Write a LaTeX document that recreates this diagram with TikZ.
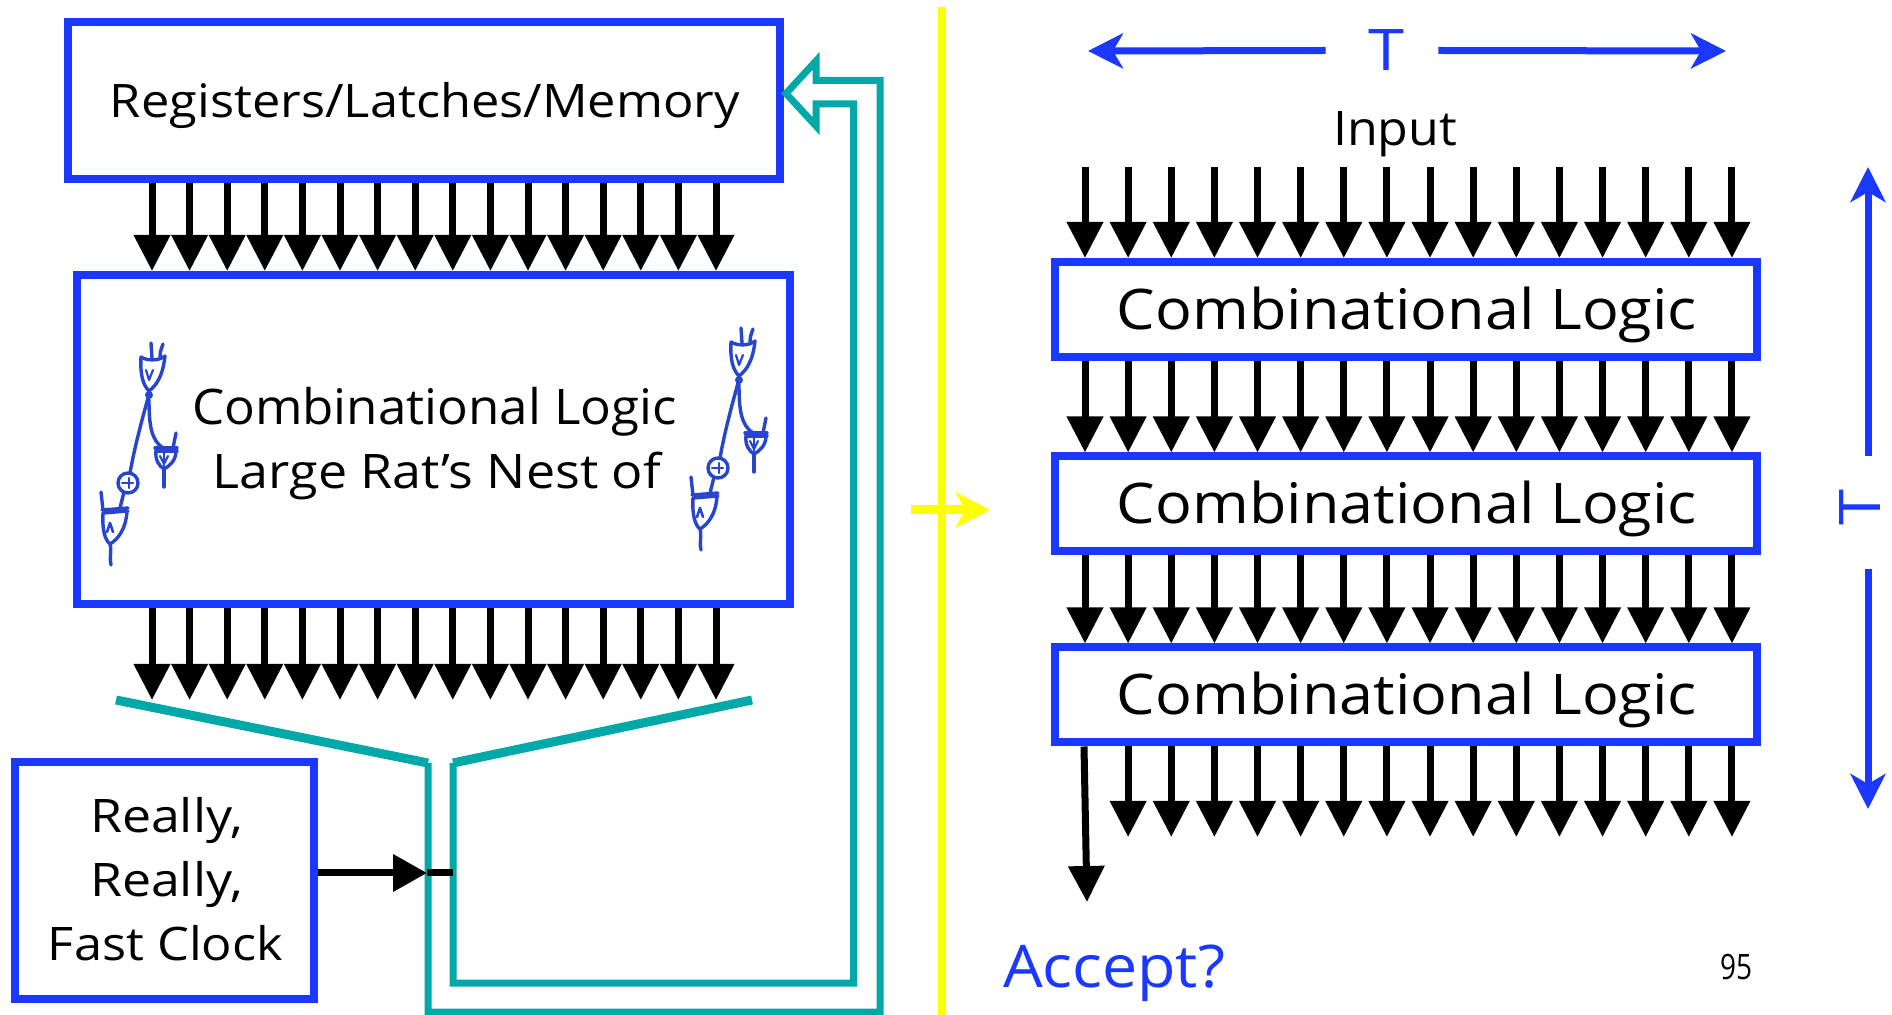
\documentclass[tikz,border=0pt]{standalone}
\usepackage{fontspec}
\setmainfont{Open Sans}
\usepackage{graphicx}
\usetikzlibrary{arrows.meta}

\definecolor{boxblue}{RGB}{26,56,255}
\definecolor{loopteal}{RGB}{0,168,168}
\definecolor{pen}{RGB}{40,70,205}
\definecolor{sunny}{RGB}{255,255,0}

% squeeze a text horizontally to a given width, keeping its height
\newcommand\fitw[2]{\resizebox{#1}{\height}{#2}}

\tikzset{
  gatesketch/.pic={
    \begin{scope}[draw=pen, line width=1.7pt, line cap=round, line join=round]
      % top OR gate with its two inputs
      \draw (46,27) .. controls (52,31) and (64,31) .. (70,26);
      \draw (46,27) .. controls (45,45) and (48,55) .. (54,61)
                    .. controls (62,55) and (68,45) .. (70,26);
      \draw (57,28) -- (56,13);
      \draw (65,27) .. controls (65,20) and (67,18) .. (68,14);
      \draw[line width=1.1pt] (51,40) -- (54,50) -- (58,40);
      \fill[pen] (54,65) circle (4);
      % wire down to the XOR circle
      \draw (53,68) .. controls (47,90) and (40,115) .. (35,143);
      \draw (33,153) circle (10);
      \draw[line width=1.3pt] (27,153) -- (38,153);
      \draw[line width=1.3pt] (34,148) -- (34,158);
      \draw (29,162) -- (25,178);
      % bottom AND gate
      \draw (7,180) -- (33,178);
      \draw (8,183) -- (33,181);
      \draw (8,183) .. controls (7,200) and (10,210) .. (15,214)
                    .. controls (22,210) and (31,200) .. (32,181);
      \draw[line width=1.3pt] (12,202) -- (15,193) -- (18,202);
      \draw (8,180) -- (6,162);
      \draw (15,214) .. controls (17,222) and (14,228) .. (16,235);
      % wire to the small gate on the right
      \draw (54,69) .. controls (54,95) and (56,110) .. (68,118);
      \draw (60,118) -- (82,118);
      \draw (61,121) -- (82,121);
      \draw (61,121) .. controls (60,130) and (64,136) .. (69,139)
                     .. controls (75,136) and (81,130) .. (81,121);
      \draw[line width=1.1pt] (65,126) -- (69,134) -- (73,126);
      \draw[line width=1.1pt] (69,123) -- (69,136);
      \draw (78,118) -- (81,103);
      \draw (69,139) -- (69,157);
    \end{scope}
  }
}

\begin{document}
\begin{tikzpicture}[x=0.5pt,y=-0.5pt,
  blk/.style={draw=boxblue, line width=4pt, rectangle, inner sep=0pt},
  lbl/.style={inner sep=0pt, anchor=base, font=\fontsize{#1}{#1}\selectfont},
  bus/.style={line width=3.5pt, -{Triangle[length=18pt,width=17.5pt]}},
  span/.style={draw=boxblue, line width=3.5pt, -{Stealth[length=17.5pt,width=17.5pt,inset=5pt]}},
  wire/.style={draw=loopteal, line width=3.5pt},
  funnel/.style={draw=loopteal, line width=4.5pt}]

\fill[white] (0,0) rectangle (1892,1015);
\useasboundingbox (0,0) rectangle (1892,1015);

% ---------------- left: single block with a fast clock ----------------
\node[blk, minimum width=356pt, minimum height=78.5pt] (reg) at (424,100.5) {};
\node[blk, minimum width=356.5pt, minimum height=164.5pt] (cl) at (433.5,439.5) {};
\node[blk, minimum width=149.5pt, minimum height=118.5pt] (clk) at (164.5,880.5) {};

\node[lbl=23.1pt] (tReg) at (425,118) {\fitw{315pt}{Registers/Latches/Memory}};
\node[lbl=24.5pt] (tCL) at (434.5,425) {\fitw{242.5pt}{Combinational Logic}};
\node[lbl=23.8pt] (tRat) at (437,489) {\fitw{224pt}{Large Rat’s Nest of}};
\node[lbl=23.1pt] (tR1) at (166.5,833) {\fitw{76.5pt}{Really,}};
\node[lbl=23.1pt] (tR2) at (166.5,897) {\fitw{76.5pt}{Really,}};
\node[lbl=23.1pt] (tFC) at (165.5,961) {\fitw{117.5pt}{Fast Clock}};

\pic at (95,330) {gatesketch};
\pic at (685,315) {gatesketch};

\foreach \i in {0,...,15}{
  \pgfmathsetmacro\xx{152+37.6*\i}
  \coordinate (a\i) at (\xx,0);
  \coordinate (b\i) at (\xx,700);
  \draw[bus] (reg.south -| a\i) -- (cl.north -| a\i);
  \draw[bus] (cl.south -| b\i) -- (b\i);
}

% feedback loop drawn as a hollow double-line arrow
\draw[funnel] (116,700) -- (428,763);
\draw[funnel] (752,700) -- (453,763);
\draw[wire, line join=miter] (428,763) -- (428,1012) -- (880,1012) -- (880,80.5)
  -- (816,80.5) -- (816,61) -- (786,93.5) -- (816,126) -- (816,104)
  -- (853.5,104) -- (853.5,983) -- (453,983) -- (453,763);

% clock input
\coordinate (ck) at (427,873);
\coordinate (ckend) at (453,873);
\draw[line width=3.5pt, -{Triangle[length=17pt,width=18pt]}] (clk.east |- ck) -- (ck);
\draw[line width=3.5pt] (ck) -- (ckend);

% ---------------- divider ----------------
\coordinate (dtop) at (942,7);
\coordinate (dbot) at (942,1015);
\draw[sunny, line width=4pt] (dtop) -- (dbot);
\coordinate (ya) at (911,510);
\coordinate (yb) at (990,510);
\draw[sunny, line width=4.5pt, -{Stealth[length=17pt,width=17.5pt,inset=4.5pt]}] (ya) -- (yb);

% ---------------- right: cascaded combinational stages ----------------
\node[blk, minimum width=351pt, minimum height=47.5pt] (r1) at (1406,309.5) {};
\node[blk, minimum width=351pt, minimum height=47.5pt] (r2) at (1406,504) {};
\node[blk, minimum width=351pt, minimum height=47.5pt] (r3) at (1406,695) {};

\node[lbl=28pt] (tr1) at (1407,329.5) {\fitw{290pt}{Combinational Logic}};
\node[lbl=28pt] (tr2) at (1407,524) {\fitw{290pt}{Combinational Logic}};
\node[lbl=28pt] (tr3) at (1407,715) {\fitw{290pt}{Combinational Logic}};

\node[lbl=23.8pt] (tIn) at (1395,146) {\fitw{62pt}{Input}};

\foreach \i in {0,...,15}{
  \pgfmathsetmacro\xx{1085+43.13*\i}
  \coordinate (in\i) at (\xx,167);
  \draw[bus] (in\i) -- (r1.north -| in\i);
  \draw[bus] (r1.south -| in\i) -- (r2.north -| in\i);
  \draw[bus] (r2.south -| in\i) -- (r3.north -| in\i);
}
\foreach \i in {1,...,15}{
  \pgfmathsetmacro\xx{1085+43.13*\i}
  \coordinate (o\i) at (\xx,837);
  \draw[bus] (r3.south -| o\i) -- (o\i);
}
\coordinate (acctop) at (1084,0);
\coordinate (acc) at (1087,902);
\draw[bus] (r3.south -| acctop) -- (acc);

\node[lbl=29.4pt, text=boxblue] (tAcc) at (1114,987) {\fitw{111pt}{Accept?}};
\node[lbl=17.5pt] (tPg) at (1736,980) {\fitw{16pt}{95}};

% width and height spans
\node[inner sep=0pt, text=boxblue, font=\fontsize{28.7pt}{28.7pt}\selectfont] (th) at (1386,50.5) {\fitw{18pt}{T}};
\coordinate (thl) at (1088,51);
\coordinate (thr) at (1726,51);
\draw[span] ([xshift=-21pt]th.west) -- (thl);
\draw[span] ([xshift=17pt]th.east) -- (thr);

\node[inner sep=0pt, text=boxblue, rotate=90, font=\fontsize{28.7pt}{28.7pt}\selectfont] (tv) at (1860,508) {\fitw{18pt}{T}};
\coordinate (tvt) at (1868,167);
\coordinate (tvb) at (1868,809);
\draw[span] (tv.east -| tvt) ++(0,-34) -- (tvt);
\draw[span] (tv.west -| tvb) ++(0,43) -- (tvb);

\end{tikzpicture}
\end{document}
